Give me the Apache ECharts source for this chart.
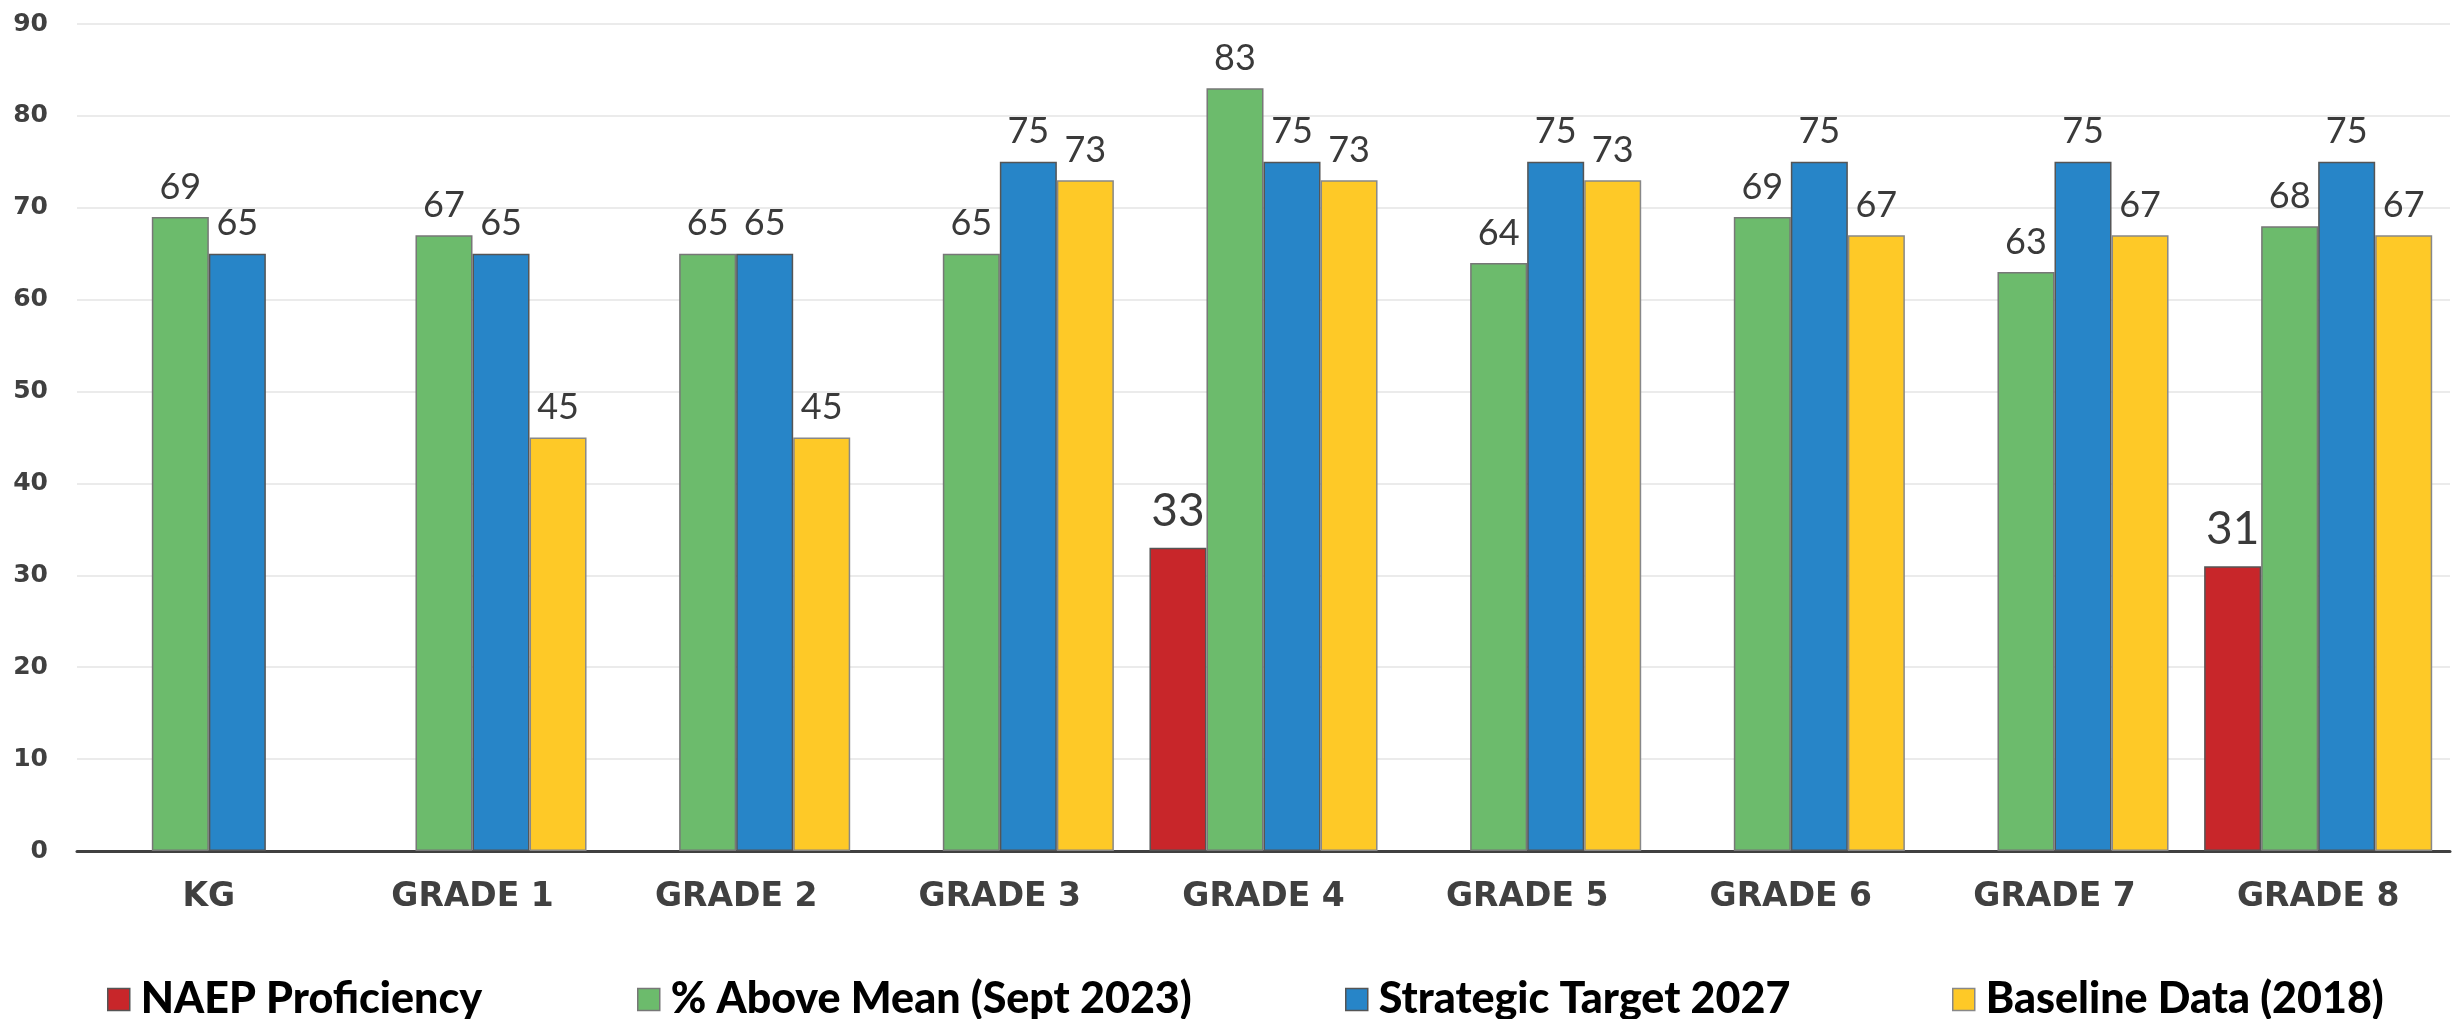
<!DOCTYPE html>
<html>
<head>
<meta charset="utf-8">
<script src="https://cdn.jsdelivr.net/npm/echarts@6/dist/echarts.min.js"></script>
<style>
html,body{margin:0;padding:0;background:#fff;}
#chart{width:2463px;height:1019px;}
</style>
</head>
<body>
<div id="chart"></div>
<script>
const categories = ["KG", "GRADE 1", "GRADE 2", "GRADE 3", "GRADE 4", "GRADE 5", "GRADE 6", "GRADE 7", "GRADE 8"];
const naepProficiency = [null, null, null, null, 33, null, null, null, 31];
const aboveMean2023 = [69, 67, 65, 65, 83, 64, 69, 63, 68];
const strategicTarget2027 = [65, 65, 65, 75, 75, 75, 75, 75, 75];
const baseline2018 = [null, 45, 45, 73, 73, 73, 67, 67, 67];
const seriesNames = ["NAEP Proficiency", "% Above Mean (Sept 2023)", "Strategic Target 2027", "Baseline Data (2018)"];
const yTicks = [0, 10, 20, 30, 40, 50, 60, 70, 80, 90];

const colors = ["#C8262A", "#6CBB6C", "#2785C8", "#FEC927"];
const borders = ["#555555", "#777777", "#555555", "#888888"];
const legendLefts = [102, 632, 1340, 1947];

const chart = echarts.init(document.getElementById('chart'), null, {renderer: 'canvas'});

function mkSeries(i, data, labelSize, dist) {
  return {
    name: seriesNames[i],
    type: 'bar',
    data: data,
    barGap: '0%',
    barCategoryGap: '13.5%',
    itemStyle: {color: colors[i], borderColor: borders[i], borderWidth: 1.5},
    label: {
      show: true, position: 'top', distance: dist,
      color: '#3A3A3A', fontFamily: 'Lato', fontSize: labelSize, fontWeight: 'normal'
    },
    emphasis: {disabled: true}
  };
}

const legends = seriesNames.map((n, i) => ({
  data: [n],
  left: legendLefts[i],
  top: 973,
  icon: 'rect',
  itemWidth: 22,
  itemHeight: 22,
  itemStyle: {borderColor: borders[i], borderWidth: 1.5},
  textStyle: {fontFamily: 'Lato', fontWeight: 900, fontSize: 43, color: '#000', padding: [0, 0, 0, 6]},
  selectedMode: false
}));

chart.setOption({
  animation: false,
  backgroundColor: '#fff',
  grid: {left: 77, right: 13, top: 24, bottom: 168},
  legend: legends,
  xAxis: {
    type: 'category',
    data: categories,
    axisLine: {lineStyle: {color: '#404040', width: 3}},
    axisTick: {show: false},
    axisLabel: {fontFamily: 'DejaVu Sans', fontWeight: 'bold', fontSize: 33, color: '#404040', margin: 30}
  },
  yAxis: {
    type: 'value',
    min: yTicks[0],
    max: yTicks[yTicks.length - 1],
    interval: yTicks[1] - yTicks[0],
    axisLine: {show: false},
    axisTick: {show: false},
    splitLine: {lineStyle: {color: '#E4E4E4', width: 1.5}},
    axisLabel: {fontFamily: 'DejaVu Sans', fontWeight: 'bold', fontSize: 25, color: '#404040', margin: 29}
  },
  series: [
    mkSeries(0, naepProficiency, 46, 14),
    mkSeries(1, aboveMean2023, 36, 12),
    mkSeries(2, strategicTarget2027, 36, 12),
    mkSeries(3, baseline2018, 36, 12)
  ]
});
</script>
</body>
</html>
